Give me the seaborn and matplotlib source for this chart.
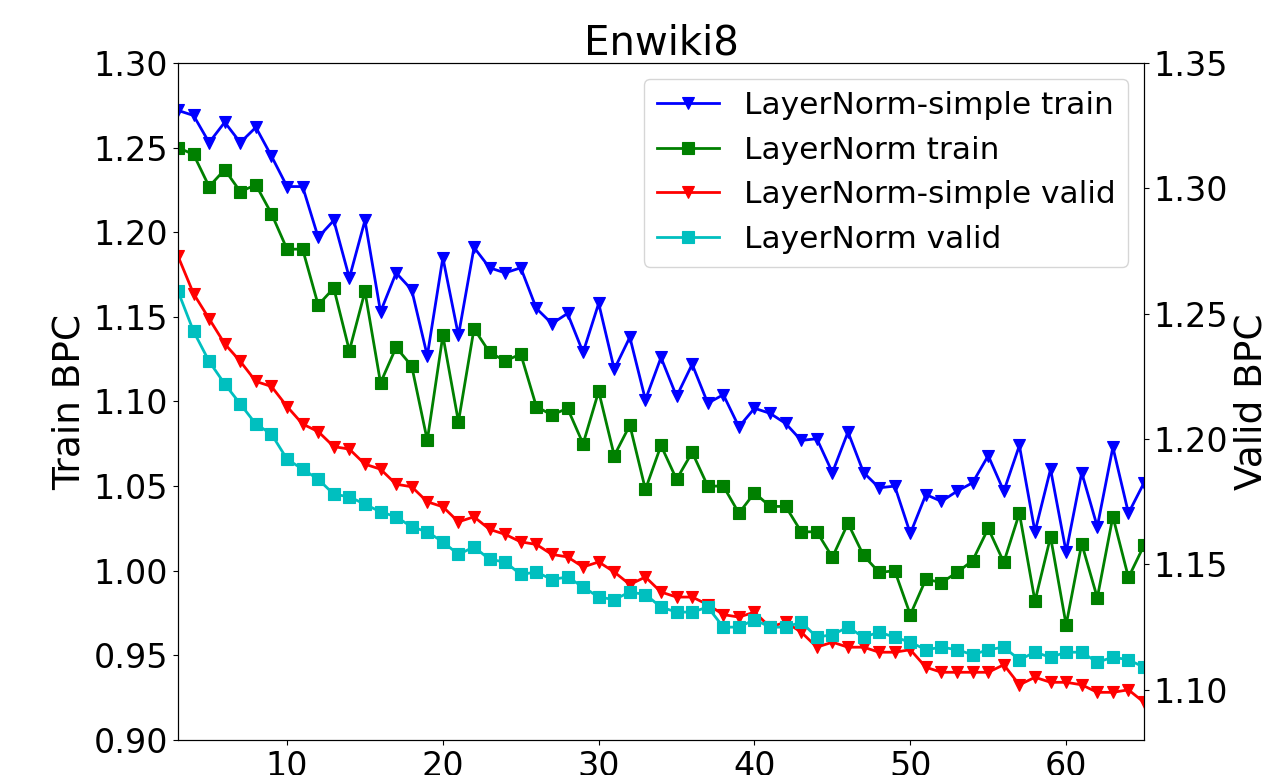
import matplotlib
matplotlib.use("Agg")
import matplotlib.pyplot as plt
import seaborn as sns
import pandas as pd

epochs = list(range(3, 66))

ln_simple_train = [1.272, 1.269, 1.253, 1.265, 1.253, 1.262, 1.245, 1.227, 1.227, 1.197,
                   1.207, 1.173, 1.207, 1.153, 1.176, 1.166, 1.127, 1.185, 1.139, 1.191,
                   1.179, 1.176, 1.179, 1.155, 1.146, 1.152, 1.129, 1.158, 1.119, 1.138,
                   1.101, 1.126, 1.103, 1.122, 1.099, 1.104, 1.085, 1.096, 1.093, 1.087,
                   1.077, 1.078, 1.058, 1.082, 1.058, 1.049, 1.050, 1.022, 1.045, 1.041,
                   1.047, 1.052, 1.068, 1.047, 1.074, 1.023, 1.060, 1.011, 1.058, 1.026,
                   1.073, 1.034, 1.052]

ln_train = [1.250, 1.246, 1.227, 1.237, 1.224, 1.228, 1.211, 1.190, 1.190, 1.157,
            1.167, 1.130, 1.165, 1.111, 1.132, 1.121, 1.077, 1.139, 1.088, 1.143,
            1.129, 1.124, 1.128, 1.097, 1.092, 1.096, 1.075, 1.106, 1.068, 1.086,
            1.048, 1.074, 1.054, 1.070, 1.050, 1.050, 1.034, 1.046, 1.038, 1.038,
            1.023, 1.023, 1.008, 1.028, 1.009, 0.999, 1.000, 0.974, 0.995, 0.993,
            0.999, 1.006, 1.025, 1.005, 1.034, 0.982, 1.020, 0.968, 1.016, 0.984,
            1.032, 0.996, 1.015]

ln_simple_valid = [1.273, 1.258, 1.248, 1.238, 1.231, 1.223, 1.221, 1.213, 1.206, 1.203,
                   1.197, 1.196, 1.190, 1.188, 1.182, 1.181, 1.175, 1.173, 1.167, 1.169,
                   1.164, 1.162, 1.159, 1.158, 1.154, 1.153, 1.149, 1.151, 1.147, 1.142,
                   1.145, 1.139, 1.137, 1.137, 1.134, 1.130, 1.129, 1.131, 1.125, 1.127,
                   1.123, 1.117, 1.119, 1.117, 1.117, 1.115, 1.115, 1.116, 1.109, 1.107,
                   1.107, 1.107, 1.107, 1.110, 1.102, 1.105, 1.103, 1.103, 1.102, 1.099,
                   1.099, 1.100, 1.095]

ln_valid = [1.259, 1.243, 1.231, 1.222, 1.214, 1.206, 1.202, 1.192, 1.188, 1.184,
            1.178, 1.177, 1.174, 1.171, 1.169, 1.165, 1.163, 1.159, 1.154, 1.157,
            1.152, 1.151, 1.146, 1.147, 1.144, 1.145, 1.141, 1.137, 1.136, 1.139,
            1.138, 1.133, 1.131, 1.131, 1.133, 1.125, 1.125, 1.128, 1.125, 1.125,
            1.127, 1.121, 1.122, 1.125, 1.121, 1.123, 1.121, 1.119, 1.116, 1.117,
            1.116, 1.114, 1.116, 1.117, 1.112, 1.115, 1.113, 1.115, 1.115, 1.111,
            1.113, 1.112, 1.109]

title = "Enwiki8"
left_label = "Train BPC"
right_label = "Valid BPC"

TICK_FS = 24
LABEL_FS = 27
TITLE_FS = 29
LEG_FS = 22.5

fig = plt.figure(figsize=(12.73, 7.75), dpi=100)
ax = fig.add_axes([0.1398, 0.0452, 0.7589, 0.8735])
ax2 = ax.twinx()

common = dict(linewidth=2, markersize=9, markeredgewidth=0.8, estimator=None)

sns.lineplot(x=epochs, y=ln_simple_train, ax=ax, color="b", marker="v",
             markeredgecolor="b", label="LayerNorm-simple train", legend=False, **common)
sns.lineplot(x=epochs, y=ln_train, ax=ax, color="g", marker="s",
             markeredgecolor="g", label="LayerNorm train", legend=False, **common)
sns.lineplot(x=epochs, y=ln_simple_valid, ax=ax2, color="r", marker="v",
             markeredgecolor="r", label="LayerNorm-simple valid", legend=False, **common)
sns.lineplot(x=epochs, y=ln_valid, ax=ax2, color="c", marker="s",
             markeredgecolor="c", label="LayerNorm valid", legend=False, **common)

ax.set_xlim(3, 65)
ax.set_ylim(0.90, 1.30)
ax2.set_ylim(1.08, 1.35)
ax.set_xticks([10, 20, 30, 40, 50, 60])
ax.set_yticks([0.90, 0.95, 1.00, 1.05, 1.10, 1.15, 1.20, 1.25, 1.30])
ax2.set_yticks([1.10, 1.15, 1.20, 1.25, 1.30, 1.35])
ax.yaxis.set_major_formatter(matplotlib.ticker.FormatStrFormatter("%.2f"))
ax2.yaxis.set_major_formatter(matplotlib.ticker.FormatStrFormatter("%.2f"))
ax.tick_params(labelsize=TICK_FS)
ax2.tick_params(labelsize=TICK_FS)
ax.set_ylabel(left_label, fontsize=LABEL_FS)
ax2.set_ylabel(right_label, fontsize=LABEL_FS)
ax.set_xlabel("")
ax.set_title(title, fontsize=TITLE_FS)

h1, l1 = ax.get_legend_handles_labels()
h2, l2 = ax2.get_legend_handles_labels()
ax2.legend(h1 + h2, l1 + l2, loc="upper right", fontsize=LEG_FS)

fig.savefig("out.png", dpi=100)
